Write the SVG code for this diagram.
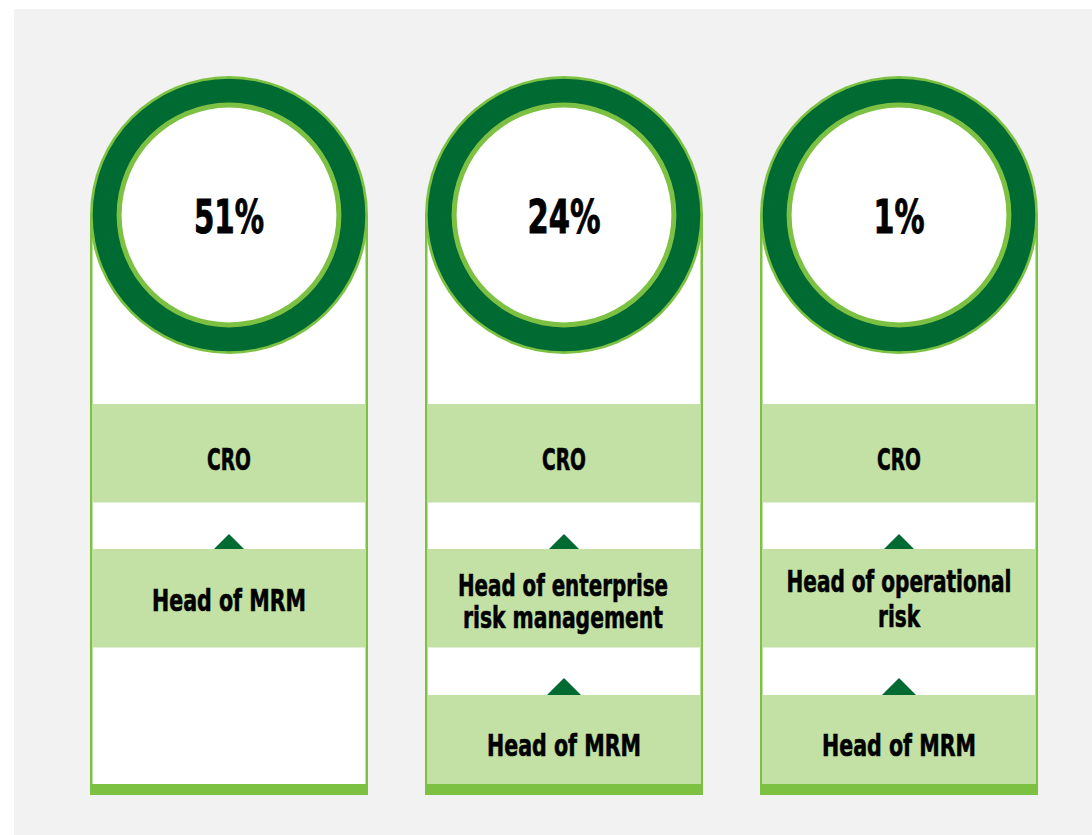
<svg xmlns="http://www.w3.org/2000/svg" width="1092" height="835" viewBox="0 0 1092 835">
<defs>
<style>
.bg{fill:#f2f2f2}
.col{fill:#ffffff}
.edge{fill:#7dc142}
.band{fill:#c3e1a4}
.tri{fill:#006a33}
.c1{fill:#7dc142}
.c2{fill:#006a33}
.c4{fill:#ffffff}
.t{font-family:"Liberation Sans Narrow","DejaVu Sans Condensed","Liberation Sans",sans-serif;font-weight:bold;fill:#000;stroke:#000;stroke-width:0.6;text-anchor:middle}
.pct{font-size:46px;stroke-width:0.9}
.lbl{font-size:31px}
</style>
</defs>
<rect x="0" y="0" width="1092" height="835" fill="#ffffff"/>
<rect class="bg" x="14" y="9" width="1078" height="826"/>

<g id="col1">
<rect class="col" x="90" y="215" width="278" height="580"/>
<rect class="edge" x="90" y="215" width="2.5" height="580"/>
<rect class="edge" x="365.5" y="215" width="2.5" height="580"/>
<rect class="edge" x="90" y="784" width="278" height="11"/>
<circle class="c1" cx="229" cy="215" r="139"/>
<circle class="c2" cx="229" cy="215" r="136.3"/>
<circle class="c1" cx="229" cy="215" r="112.4"/>
<circle class="c4" cx="229" cy="215" r="107.4"/>
<text class="t pct" x="229" y="233" textLength="70" lengthAdjust="spacingAndGlyphs">51%</text>
</g>
<g id="col1-cro">
<rect class="band" x="92.5" y="404" width="273" height="98.5"/>
<text class="t lbl" x="229" y="470" textLength="44" lengthAdjust="spacingAndGlyphs">CRO</text>
</g>
<g id="col1-mrm">
<rect class="band" x="92.5" y="549" width="273" height="98.5"/>
<text class="t lbl" x="229" y="611" textLength="154" lengthAdjust="spacingAndGlyphs">Head of MRM</text>
</g>

<g id="col2">
<rect class="col" x="425" y="215" width="278" height="580"/>
<rect class="edge" x="425" y="215" width="2.5" height="580"/>
<rect class="edge" x="700.5" y="215" width="2.5" height="580"/>
<rect class="edge" x="425" y="784" width="278" height="11"/>
<circle class="c1" cx="564" cy="215" r="139"/>
<circle class="c2" cx="564" cy="215" r="136.3"/>
<circle class="c1" cx="564" cy="215" r="112.4"/>
<circle class="c4" cx="564" cy="215" r="107.4"/>
<text class="t pct" x="564" y="233" textLength="73" lengthAdjust="spacingAndGlyphs">24%</text>
</g>
<g id="col2-cro">
<rect class="band" x="427.5" y="404" width="273" height="98.5"/>
<text class="t lbl" x="564" y="470" textLength="44" lengthAdjust="spacingAndGlyphs">CRO</text>
</g>
<g id="col2-erm">
<rect class="band" x="427.5" y="549" width="273" height="98.5"/>
<text class="t lbl" x="563" y="596" textLength="210" lengthAdjust="spacingAndGlyphs">Head of enterprise</text>
<text class="t lbl" x="563" y="628" textLength="200" lengthAdjust="spacingAndGlyphs">risk management</text>
</g>
<g id="col2-mrm">
<rect class="band" x="427.5" y="695" width="273" height="89"/>
<text class="t lbl" x="564" y="756" textLength="154" lengthAdjust="spacingAndGlyphs">Head of MRM</text>
</g>

<g id="col3">
<rect class="col" x="760" y="215" width="278" height="580"/>
<rect class="edge" x="760" y="215" width="2.5" height="580"/>
<rect class="edge" x="1035.5" y="215" width="2.5" height="580"/>
<rect class="edge" x="760" y="784" width="278" height="11"/>
<circle class="c1" cx="899" cy="215" r="139"/>
<circle class="c2" cx="899" cy="215" r="136.3"/>
<circle class="c1" cx="899" cy="215" r="112.4"/>
<circle class="c4" cx="899" cy="215" r="107.4"/>
<text class="t pct" x="899" y="233" textLength="51" lengthAdjust="spacingAndGlyphs">1%</text>
</g>
<g id="col3-cro">
<rect class="band" x="762.5" y="404" width="273" height="98.5"/>
<text class="t lbl" x="899" y="470" textLength="44" lengthAdjust="spacingAndGlyphs">CRO</text>
</g>
<g id="col3-opr">
<rect class="band" x="762.5" y="549" width="273" height="98.5"/>
<text class="t lbl" x="899" y="592" textLength="225" lengthAdjust="spacingAndGlyphs">Head of operational</text>
<text class="t lbl" x="899" y="627" textLength="42" lengthAdjust="spacingAndGlyphs">risk</text>
</g>
<g id="col3-mrm">
<rect class="band" x="762.5" y="695" width="273" height="89"/>
<text class="t lbl" x="899" y="756" textLength="154" lengthAdjust="spacingAndGlyphs">Head of MRM</text>
</g>

<g id="connectors">
<polygon class="tri" points="214,549 229,534 244,549"/>
<polygon class="tri" points="549,549 564,534 579,549"/>
<polygon class="tri" points="547,695 564,678 581,695"/>
<polygon class="tri" points="884,549 899,534 914,549"/>
<polygon class="tri" points="882,695 899,678 916,695"/>
</g>
</svg>
